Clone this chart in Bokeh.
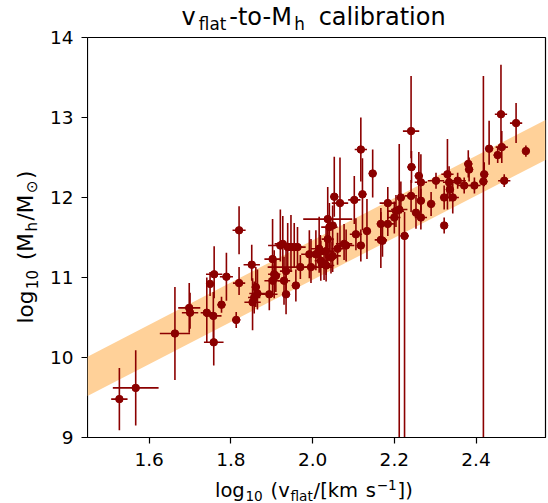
import math
from bokeh.plotting import figure
from bokeh.layouts import column, row
from bokeh.models import FixedTicker, Range1d, PrintfTickFormatter, ColumnDataSource, Spacer
from bokeh.core.properties import value
from bokeh.embed import file_html
from bokeh.resources import INLINE

# ---- data ----
v_flat = [1.527, 1.567, 1.663, 1.698, 1.700, 1.741, 1.749, 1.757, 1.758, 1.759,
          1.777, 1.789, 1.813, 1.820, 1.820, 1.851, 1.853, 1.857, 1.861, 1.865,
          1.894, 1.902, 1.902, 1.906, 1.910, 1.921, 1.927, 1.930, 1.935, 1.935,
          1.939, 1.947, 1.955, 1.959, 1.963, 1.970, 1.992, 1.996, 2.008, 2.016,
          2.019, 2.020, 2.028, 2.033, 2.033, 2.037, 2.037, 2.041, 2.045, 2.049,
          2.049, 2.053, 2.061, 2.067, 2.077, 2.082, 2.102, 2.106, 2.118, 2.118,
          2.122, 2.133, 2.147, 2.167, 2.167, 2.171, 2.184, 2.184, 2.200, 2.204,
          2.212, 2.216, 2.225, 2.241, 2.241, 2.242, 2.253, 2.260, 2.265, 2.265,
          2.265, 2.290, 2.302, 2.322, 2.322, 2.330, 2.334, 2.336, 2.343, 2.355,
          2.371, 2.381, 2.383, 2.396, 2.418, 2.420, 2.432, 2.453, 2.461, 2.463,
          2.469, 2.498, 2.522]
log_mh = [9.48, 9.62, 10.30, 10.62, 10.56, 10.56, 10.92, 10.52, 10.19, 11.04,
          10.66, 11.01, 10.47, 11.59, 10.93, 11.16, 10.69, 10.75, 10.88, 10.80,
          10.79, 11.23, 10.96, 11.04, 11.02, 11.40, 11.42, 10.96, 10.79, 11.08,
          11.38, 11.38, 11.38, 10.90, 11.38, 11.13, 11.29, 11.13, 11.29, 11.36,
          11.33, 11.21, 11.17, 11.33, 11.15, 11.73, 11.48, 11.63, 11.25, 11.65,
          11.27, 12.01, 11.36, 11.93, 11.42, 11.40, 11.97, 11.54, 12.60, 11.40,
          12.04, 11.58, 12.30, 11.47, 11.67, 11.46, 11.93, 11.67, 11.75, 11.83,
          11.85, 12.00, 11.52, 12.02, 12.83, 12.38, 11.81, 12.27, 12.19, 11.96,
          11.75, 11.92, 12.21, 12.00, 11.65, 12.29, 12.19, 12.10, 12.00, 12.21,
          12.15, 12.42, 12.35, 12.15, 12.20, 12.29, 12.61, 12.53, 13.04, 12.63,
          12.21, 12.93, 12.58]
v_err = [0.020, 0.056, 0.037, 0.027, 0.020, 0.015, 0.010, 0.020, 0.024, 0.020,
         0.010, 0.016, 0.010, 0.016, 0.015, 0.020, 0.020, 0.015, 0.010, 0.020,
         0.020, 0.020, 0.020, 0.015, 0.010, 0.030, 0.020, 0.015, 0.010, 0.015,
         0.020, 0.015, 0.020, 0.010, 0.020, 0.080, 0.020, 0.015, 0.020, 0.020,
         0.015, 0.015, 0.015, 0.020, 0.020, 0.060, 0.015, 0.020, 0.015, 0.010,
         0.020, 0.010, 0.015, 0.020, 0.020, 0.020, 0.015, 0.015, 0.015, 0.010,
         0.010, 0.010, 0.010, 0.015, 0.010, 0.010, 0.020, 0.015, 0.015, 0.020,
         0.020, 0.010, 0.010, 0.015, 0.020, 0.010, 0.010, 0.010, 0.015, 0.010,
         0.015, 0.010, 0.020, 0.010, 0.005, 0.015, 0.015, 0.010, 0.015, 0.020,
         0.015, 0.010, 0.010, 0.015, 0.010, 0.010, 0.010, 0.010, 0.015, 0.015,
         0.015, 0.015, 0.005]
mh_err_lo = [0.39, 0.47, 0.58, 0.31, 0.20, 0.37, 0.15, 0.30, 0.29, 0.30,
             0.10, 0.30, 0.10, 0.30, 0.15, 0.20, 0.35, 0.20, 0.25, 0.20,
             0.20, 0.30, 0.20, 0.30, 0.20, 0.20, 0.35, 0.30, 0.25, 0.30,
             0.30, 0.30, 0.25, 0.20, 0.25, 0.15, 0.30, 0.20, 0.20, 0.30,
             0.20, 0.25, 0.20, 0.30, 0.20, 0.35, 0.30, 0.30, 0.20, 0.25,
             0.20, 0.25, 0.20, 0.57, 0.20, 0.20, 0.30, 0.20, 0.40, 0.20,
             0.45, 0.35, 0.30, 0.35, 0.20, 0.20, 0.20, 0.15, 0.20, 0.20,
             3.00, 0.20, 2.60, 0.20, 0.34, 0.20, 0.20, 0.30, 0.35, 0.15,
             0.15, 0.15, 0.10, 0.15, 0.10, 0.44, 0.20, 0.15, 0.20, 0.10,
             0.10, 0.17, 0.15, 0.10, 3.30, 0.15, 0.20, 0.10, 0.46, 0.20,
             0.08, 0.25, 0.07]
mh_err_hi = [0.39, 0.47, 0.58, 0.31, 0.25, 0.44, 0.15, 0.30, 0.29, 0.35,
             0.10, 0.30, 0.10, 0.30, 0.20, 0.25, 0.30, 0.20, 0.25, 0.30,
             0.20, 0.50, 0.20, 0.30, 0.20, 0.45, 0.35, 0.30, 0.25, 0.30,
             0.30, 0.40, 0.30, 0.20, 0.25, 0.15, 0.30, 0.35, 0.30, 0.40,
             0.20, 0.25, 0.20, 0.30, 0.30, 0.40, 0.30, 0.30, 0.20, 0.25,
             0.20, 0.50, 0.20, 0.57, 0.25, 0.20, 0.30, 0.20, 0.40, 0.20,
             0.45, 0.40, 0.30, 0.35, 0.20, 0.20, 0.20, 0.15, 0.20, 0.20,
             0.82, 0.20, 0.30, 0.20, 0.69, 0.20, 0.20, 0.30, 0.35, 0.15,
             0.20, 0.15, 0.10, 0.15, 0.10, 0.44, 0.20, 0.15, 0.20, 0.10,
             0.10, 0.17, 0.15, 0.10, 1.32, 0.15, 0.35, 0.10, 0.62, 0.20,
             0.08, 0.25, 0.07]

band_v = [1.449, 2.570]
band_lo = [9.52, 12.47]
band_hi = [10.01, 12.97]

x_ticks = [1.6, 1.8, 2.0, 2.2, 2.4]
y_ticks = [9, 10, 11, 12, 13, 14]

title_pieces = [("v", "n"), ("flat", "sub"), ("-to-M", "n"), ("h", "sub"), (" ", "sp"), ("calibration", "n")]
xlabel_pieces = [("log", "n"), ("10", "sub"), (" ", "sp"), ("(v", "n"), ("flat", "sub"), ("/[km", "n"),
                 (" ", "sp"), ("s", "n"), ("\u22121", "sup"), ("])", "n")]
ylabel_pieces = [("log", "n"), ("10", "sub"), (" ", "sp"), ("(M", "n"), ("h", "sub"), ("/M", "n"),
                 ("\u2299", "sub"), (")", "n")]

# ---- layout geometry (canvas pixels) ----
DARK = "#8b0000"
FONT = "DejaVu Sans"
W, H = 548, 503
FRAME_L, FRAME_T, FRAME_W, FRAME_H = 87, 37, 458, 400
YLAB_W = 47                      # y-label strip
YAX_W = FRAME_L - YLAB_W         # y-axis strip (tick labels)
RIGHT_W = W - FRAME_L            # frame + right border
TOP_H = 33                       # title strip
MAIN_H = 440                     # 4 + 400 frame + 36
BOT_H = H - TOP_H - MAIN_H
BASE_FIX = 0.33                  # measured renderer baseline offset (em)


def blank_fig(w, h):
    f = figure(width=w, height=h, x_range=Range1d(0, w), y_range=Range1d(h, 0),
               output_backend="svg", toolbar_location=None, title=None,
               x_axis_location=None, y_axis_location=None, min_border=0)
    f.xgrid.visible = False
    f.ygrid.visible = False
    f.outline_line_color = None
    f.background_fill_color = "white"
    f.border_fill_color = "white"
    return f


def style_axis(ax):
    ax.minor_tick_line_color = None
    ax.major_tick_out = 6
    ax.major_tick_in = 0
    ax.axis_line_width = 1.2
    ax.axis_line_color = "black"
    ax.major_tick_line_width = 1.2
    ax.major_tick_line_color = "black"
    ax.major_label_text_font = FONT
    ax.major_label_text_font_size = "18.5px"
    ax.major_label_text_color = "black"


yr = Range1d(9, 14)

# ---- main figure (frame + x axis) ----
p = figure(width=RIGHT_W, height=MAIN_H, title=None,
           x_range=Range1d(band_v[0], band_v[1]), y_range=yr,
           output_backend="svg", toolbar_location=None, y_axis_location=None,
           min_border_left=0, min_border_right=3, min_border_top=FRAME_T - TOP_H, min_border_bottom=36)
p.xgrid.visible = False
p.ygrid.visible = False
p.outline_line_color = "black"
p.outline_line_width = 1.2
p.outline_line_alpha = 1.0
p.background_fill_color = "white"
p.border_fill_color = "white"
p.xaxis.ticker = FixedTicker(ticks=x_ticks)
p.xaxis.formatter = PrintfTickFormatter(format="%.1f")
style_axis(p.xaxis[0])
p.xaxis.major_label_standoff = 9

p.varea(x=band_v, y1=band_lo, y2=band_hi, fill_color="#ffd199", fill_alpha=1.0)

src = ColumnDataSource(dict(
    v=v_flat, m=log_mh,
    x0=[a - e for a, e in zip(v_flat, v_err)], x1=[a + e for a, e in zip(v_flat, v_err)],
    y0=[a - e for a, e in zip(log_mh, mh_err_lo)], y1=[a + e for a, e in zip(log_mh, mh_err_hi)],
))
p.segment(x0="x0", x1="x1", y0="m", y1="m", source=src, line_color=DARK, line_width=1.6)
p.segment(x0="v", x1="v", y0="y0", y1="y1", source=src, line_color=DARK, line_width=1.6)
p.scatter(x="v", y="m", source=src, size=7.5, fill_color=DARK, line_color=DARK)

# ---- y axis strip (shares the y range) ----
yax = figure(width=YAX_W, height=H, title=None, x_range=Range1d(0, 1), y_range=yr,
             output_backend="svg", toolbar_location=None, x_axis_location=None,
             min_border_left=YAX_W - 1, min_border_right=0, min_border_top=FRAME_T,
             min_border_bottom=H - FRAME_T - FRAME_H)
yax.xgrid.visible = False
yax.ygrid.visible = False
yax.outline_line_color = None
yax.background_fill_color = "white"
yax.border_fill_color = "white"
yax.yaxis.ticker = FixedTicker(ticks=y_ticks)
yax.yaxis.formatter = PrintfTickFormatter(format="%d")
style_axis(yax.yaxis[0])
yax.yaxis.axis_line_color = None
yax.yaxis.major_label_standoff = 8

# ---- composed texts with sub/superscripts ----
ADV = {" ": 0.318, "(": 0.390, ")": 0.390, "-": 0.361, ".": 0.318, "/": 0.337, "[": 0.390, "]": 0.390,
       "0": 0.636, "1": 0.636, "M": 0.863, "a": 0.613, "b": 0.635, "c": 0.550, "f": 0.352, "g": 0.635,
       "h": 0.634, "i": 0.278, "k": 0.579, "l": 0.278, "m": 0.974, "n": 0.634, "o": 0.612, "r": 0.411,
       "s": 0.521, "t": 0.392, "v": 0.592, "\u2212": 0.838, "\u2299": 0.838}


def compose(fig, ox, oy, pieces, start, base, F, target_len, vertical=False, sub_drop=0.18):
    """Draw text pieces on fig; start/base are canvas px; ox, oy = fig's canvas offset."""
    fs_list, widths = [], []
    for t, k in pieces:
        fs = F if k in ("n", "sp") else 0.7 * F
        fs_list.append(fs)
        widths.append(sum(ADV.get(c, 0.6) for c in t) * fs)
    gap = max(0.0, (target_len - sum(widths)) / (len(pieces) - 1))
    pos = start
    for (t, k), w, fs in zip(pieces, widths, fs_list):
        if k != "sp":
            shift = -BASE_FIX * fs
            if k == "sub":
                shift += sub_drop * F
            elif k == "sup":
                shift -= 0.38 * F
            if vertical:
                x, y, ang = base + shift, pos, math.pi / 2
            else:
                x, y, ang = pos, base + shift, 0.0
            fig.text(x=[x - ox], y=[y - oy], text=[t], angle=ang,
                     text_font=value(FONT), text_font_size=f"{fs:.2f}px",
                     text_color="black", text_baseline="alphabetic", text_align="left")
        if vertical:
            pos -= w + gap
        else:
            pos += w + gap


title_fig = blank_fig(RIGHT_W, TOP_H)
compose(title_fig, FRAME_L, 0, title_pieces, 181.7, 24.5, 24.0, 265.0)

ylab_fig = blank_fig(YLAB_W, MAIN_H)
compose(ylab_fig, 0, TOP_H, ylabel_pieces, 323.0, 32.5, 21.5, 153.0, vertical=True)

xlab_fig = blank_fig(RIGHT_W, BOT_H)
compose(xlab_fig, FRAME_L, TOP_H + MAIN_H, xlabel_pieces, 215.3, 496.5, 19.5, 199.0)

left_col = column(Spacer(width=YLAB_W, height=TOP_H), ylab_fig, Spacer(width=YLAB_W, height=BOT_H), spacing=0)
layout = row(left_col, yax, column(title_fig, p, xlab_fig, spacing=0), spacing=0)

open("out.html", "w").write(file_html(layout, INLINE))
